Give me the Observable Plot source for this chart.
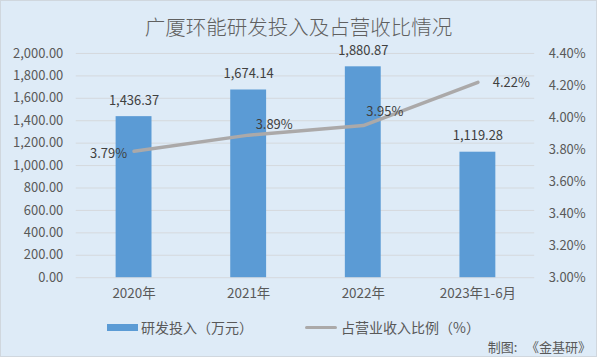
<!DOCTYPE html>
<html>
<head>
<meta charset="utf-8">
<script src="https://cdn.jsdelivr.net/npm/d3@7"></script>
<script src="https://cdn.jsdelivr.net/npm/@observablehq/plot@0.6"></script>
<style>
  html, body { margin: 0; padding: 0; }
  body { width: 597px; height: 357px; overflow: hidden; font-family: "Noto Sans CJK SC", "Noto Sans", sans-serif; }
  #wrap { position: relative; width: 595px; height: 355px; background: #DEEBF7; border: 1px solid #D0D7DE; }
  #title { position: absolute; left: 0; top: 14px; width: 100%; text-align: center; font-size: 20.5px; font-weight: 300; color: #606060; line-height: 22px; }
  #chart { position: absolute; left: 0; top: 39px; }
  #legend { position: absolute; left: 0; top: 316px; width: 100%; height: 20px; font-size: 14px; color: #595959; }
  .lg { position: absolute; top: 0; display: flex; align-items: center; height: 20px; }
  .sw-bar { width: 31px; height: 7px; background: #5B9BD5; margin-right: 3px; }
  .sw-line { width: 32px; height: 3px; background: #ABA9A9; border-radius: 2px; margin-right: 4px; }
  #caption { position: absolute; right: 5px; top: 336px; font-size: 13px; color: #595959; white-space: pre; }
</style>
</head>
<body>
<div id="wrap">
  <div id="title">广厦环能研发投入及占营收比情况</div>
  <div id="chart"></div>
  <div id="legend">
    <div class="lg" style="left:106px"><div class="sw-bar"></div><span>研发投入（万元）</span></div>
    <div class="lg" style="left:304px"><div class="sw-line"></div><span>占营业收入比例（%）</span></div>
  </div>
  <div id="caption">制图:   《金基研》</div>
</div>
<script>
const categories = ["2020年", "2021年", "2022年", "2023年1-6月"];
const rdInvestment = [1436.37, 1674.14, 1880.87, 1119.28];
const revenueRatio = [3.79, 3.89, 3.95, 4.22];
const leftTicks = [0, 200, 400, 600, 800, 1000, 1200, 1400, 1600, 1800, 2000];
const rightTicks = [3.0, 3.2, 3.4, 3.6, 3.8, 4.0, 4.2, 4.4];

// right axis range mapped onto left axis domain
const rMin = 3.0, rMax = 4.4, lMax = 2000;
const toLeft = p => (p - rMin) / (rMax - rMin) * lMax;
const fromLeft = v => v / lMax * (rMax - rMin) + rMin;

const data = categories.map((c, i) => ({
  cat: c, rd: rdInvestment[i], ratio: revenueRatio[i], ratioY: toLeft(revenueRatio[i]),
  rdLabel: d3.format(",.2f")(rdInvestment[i]), ratioLabel: revenueRatio[i].toFixed(2) + "%"
}));

const fmtL = d3.format(",.2f");
const labelOffsets = [
  {dx: -7, dy: 3, anchor: "end"},
  {dx: 7, dy: -10, anchor: "start"},
  {dx: 3, dy: -14, anchor: "start"},
  {dx: 15, dy: 1, anchor: "start"}
];

const plot = Plot.plot({
  width: 597,
  height: 270,
  marginTop: 13,
  marginBottom: 32,
  marginLeft: 75,
  marginRight: 62,
  style: {background: "transparent", fontFamily: "'Noto Sans CJK SC', 'Noto Sans', sans-serif", fontSize: "13px", color: "#595959"},
  x: {domain: categories, paddingInner: 0.69, paddingOuter: 0.345, label: null},
  y: {domain: [0, lMax], label: null},
  marks: [
    Plot.ruleY(leftTicks, {stroke: "#D5D9DD", strokeWidth: 1}),
    Plot.barY(data, {x: "cat", y: "rd", fill: "#5B9BD5"}),
    Plot.axisY({ticks: leftTicks, tickFormat: fmtL, tickSize: 0, tickPadding: 13, label: null, fontSize: 13, fill: "#595959"}),
    Plot.axisY({anchor: "right", ticks: rightTicks.map(toLeft), tickFormat: v => fromLeft(v).toFixed(2) + "%", tickSize: 0, tickPadding: 14, label: null, fontSize: 13, fill: "#595959"}),
    Plot.axisX({tickSize: 0, tickPadding: 11, label: null, fontSize: 13.5, fill: "#595959"}),
    Plot.line(data, {x: "cat", y: "ratioY", stroke: "#ABA9A9", strokeWidth: 3.5, strokeLinecap: "round", strokeLinejoin: "round"}),
    Plot.text(data, {x: "cat", y: "rd", text: "rdLabel", dy: -16, fill: "#404040", fontSize: 13}),
    ...labelOffsets.map((o, i) => Plot.text(data.filter((d, j) => j === i), {
      x: "cat", y: "ratioY", text: "ratioLabel", dx: o.dx, dy: o.dy, textAnchor: o.anchor, fill: "#404040", fontSize: 13
    }))
  ]
});
document.getElementById("chart").appendChild(plot);
</script>
</body>
</html>
